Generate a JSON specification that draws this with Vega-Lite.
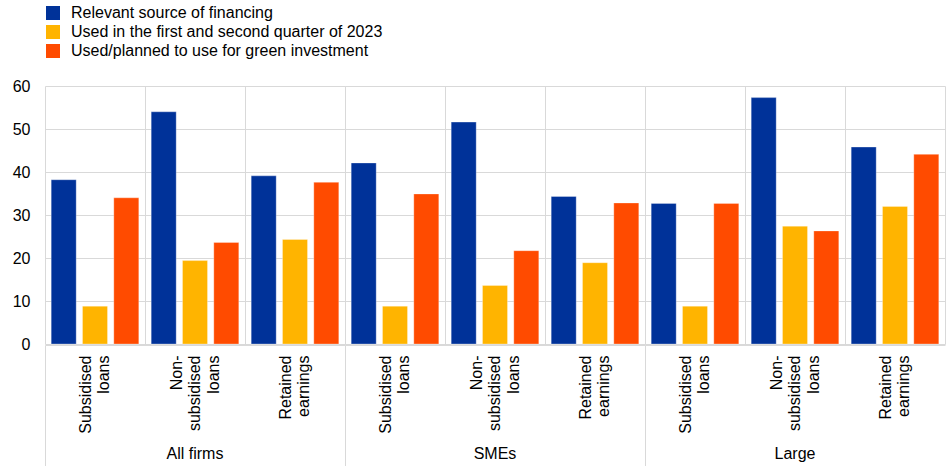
{
  "$schema": "https://vega.github.io/schema/vega-lite/v6.json",
  "padding": {"left": 12, "top": 5, "right": 1, "bottom": 0},
  "background": "white",
  "config": {
    "font": "Liberation Sans",
    "view": {"stroke": null},
    "axis": {"labelFont": "Liberation Sans", "labelFontSize": 16, "labelColor": "#000000", "gridColor": "#d9d9d9", "domainColor": "#d9d9d9", "tickColor": "#d9d9d9", "title": null}
  },
  "data": {
    "values": [
      {"group": "All firms", "category": "Subsidised loans", "series": "Relevant source of financing", "value": 38.2},
      {"group": "All firms", "category": "Subsidised loans", "series": "Used in the first and second quarter of 2023", "value": 8.8},
      {"group": "All firms", "category": "Subsidised loans", "series": "Used/planned to use for green investment", "value": 34.0},
      {"group": "All firms", "category": "Non-subsidised loans", "series": "Relevant source of financing", "value": 54.0},
      {"group": "All firms", "category": "Non-subsidised loans", "series": "Used in the first and second quarter of 2023", "value": 19.4},
      {"group": "All firms", "category": "Non-subsidised loans", "series": "Used/planned to use for green investment", "value": 23.6},
      {"group": "All firms", "category": "Retained earnings", "series": "Relevant source of financing", "value": 39.1},
      {"group": "All firms", "category": "Retained earnings", "series": "Used in the first and second quarter of 2023", "value": 24.3},
      {"group": "All firms", "category": "Retained earnings", "series": "Used/planned to use for green investment", "value": 37.6},
      {"group": "SMEs", "category": "Subsidised loans", "series": "Relevant source of financing", "value": 42.1},
      {"group": "SMEs", "category": "Subsidised loans", "series": "Used in the first and second quarter of 2023", "value": 8.8},
      {"group": "SMEs", "category": "Subsidised loans", "series": "Used/planned to use for green investment", "value": 34.9},
      {"group": "SMEs", "category": "Non-subsidised loans", "series": "Relevant source of financing", "value": 51.6},
      {"group": "SMEs", "category": "Non-subsidised loans", "series": "Used in the first and second quarter of 2023", "value": 13.6},
      {"group": "SMEs", "category": "Non-subsidised loans", "series": "Used/planned to use for green investment", "value": 21.7},
      {"group": "SMEs", "category": "Retained earnings", "series": "Relevant source of financing", "value": 34.3},
      {"group": "SMEs", "category": "Retained earnings", "series": "Used in the first and second quarter of 2023", "value": 18.9},
      {"group": "SMEs", "category": "Retained earnings", "series": "Used/planned to use for green investment", "value": 32.8},
      {"group": "Large", "category": "Subsidised loans", "series": "Relevant source of financing", "value": 32.7},
      {"group": "Large", "category": "Subsidised loans", "series": "Used in the first and second quarter of 2023", "value": 8.8},
      {"group": "Large", "category": "Subsidised loans", "series": "Used/planned to use for green investment", "value": 32.7},
      {"group": "Large", "category": "Non-subsidised loans", "series": "Relevant source of financing", "value": 57.3},
      {"group": "Large", "category": "Non-subsidised loans", "series": "Used in the first and second quarter of 2023", "value": 27.4},
      {"group": "Large", "category": "Non-subsidised loans", "series": "Used/planned to use for green investment", "value": 26.3},
      {"group": "Large", "category": "Retained earnings", "series": "Relevant source of financing", "value": 45.8},
      {"group": "Large", "category": "Retained earnings", "series": "Used in the first and second quarter of 2023", "value": 32.0},
      {"group": "Large", "category": "Retained earnings", "series": "Used/planned to use for green investment", "value": 44.1}
    ]
  },
  "facet": {
    "column": {
      "field": "group",
      "type": "nominal",
      "sort": ["All firms", "SMEs", "Large"],
      "title": null,
      "header": {"labelOrient": "bottom", "labelFont": "Liberation Sans", "labelFontSize": 16, "labelColor": "#000000", "labelPadding": -21}
    }
  },
  "spacing": 0,
  "spec": {
    "width": 300,
    "height": 258,
    "encoding": {
      "x": {
        "field": "category",
        "type": "nominal",
        "sort": ["Subsidised loans", "Non-subsidised loans", "Retained earnings"],
        "scale": {"paddingInner": 0, "paddingOuter": 0}
      },
      "xOffset": {
        "field": "series",
        "type": "nominal",
        "sort": ["Relevant source of financing", "Used in the first and second quarter of 2023", "Used/planned to use for green investment"],
        "scale": {"paddingInner": 0.2013, "paddingOuter": 0.198}
      },
      "y": {
        "field": "value",
        "type": "quantitative",
        "scale": {"domain": [0, 60]},
        "axis": {"values": [0, 10, 20, 30, 40, 50, 60], "ticks": false, "domain": false, "labelPadding": 15, "grid": true}
      },
      "color": {
        "field": "series",
        "type": "nominal",
        "sort": ["Relevant source of financing", "Used in the first and second quarter of 2023", "Used/planned to use for green investment"],
        "scale": {"range": ["#003299", "#FFB400", "#FF4B00"]},
        "legend": {
          "title": null,
          "orient": "top",
          "direction": "vertical",
          "symbolType": "square",
          "symbolSize": 196,
          "symbolStrokeWidth": 0,
          "labelFont": "Liberation Sans",
          "labelFontSize": 16,
          "labelColor": "#000000",
          "labelLimit": 600,
          "rowPadding": 3,
          "labelOffset": 10,
          "offset": 19
        }
      }
    },
    "layer": [
      {
        "mark": {"type": "bar", "opacity": 0},
        "encoding": {
          "x": {
            "field": "category",
            "type": "nominal",
            "sort": ["Subsidised loans", "Non-subsidised loans", "Retained earnings"],
            "axis": {
              "orient": "bottom",
              "labels": false,
              "tickBand": "extent",
              "grid": true,
              "ticks": true,
              "tickSize": 121,
              "tickOpacity": {"condition": {"test": "!datum.value", "value": 1}, "value": 0},
              "domain": true
            }
          }
        }
      },
      {
        "mark": {"type": "bar", "stroke": "white", "strokeWidth": 0.5, "strokeOpacity": 0.6},
        "encoding": {
          "x": {
            "field": "category",
            "type": "nominal",
            "sort": ["Subsidised loans", "Non-subsidised loans", "Retained earnings"],
            "axis": {
              "orient": "bottom",
              "labelAngle": -90,
              "labelPadding": 10,
              "labelLineHeight": 18.5,
              "labelOffset": {"condition": {"test": "datum.value == 'Non-subsidised loans'", "value": -18.5}, "value": -9.25},
              "labelExpr": "datum.value == 'Non-subsidised loans' ? ['Non-', 'subsidised', 'loans'] : split(datum.value, ' ')",
              "grid": false,
              "ticks": false,
              "domain": false
            }
          }
        }
      }
    ],
    "resolve": {"axis": {"x": "independent"}}
  }
}
